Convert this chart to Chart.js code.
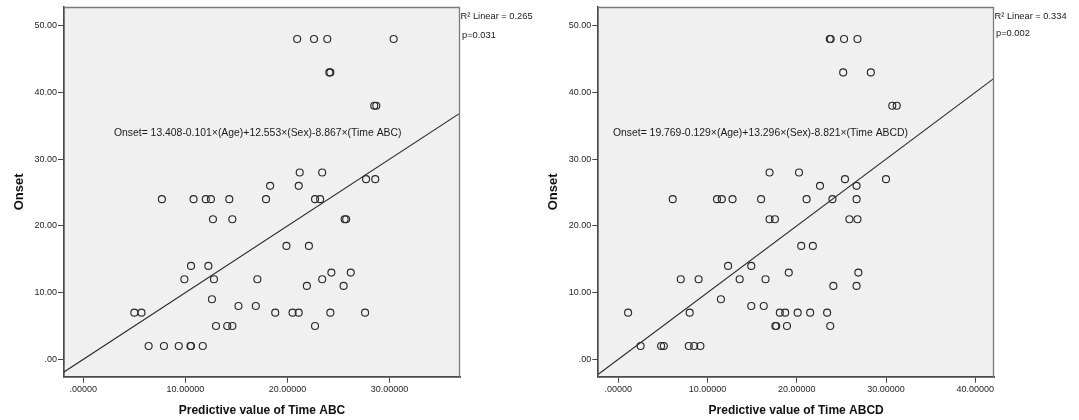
<!DOCTYPE html>
<html>
<head>
<meta charset="utf-8">
<script src="https://cdn.jsdelivr.net/npm/chart.js@4/dist/chart.umd.min.js"></script>
<style>
  body { margin: 0; background: #fff; }
  #wrap { position: relative; width: 1079px; height: 420px; }
  canvas { position: absolute; top: 0; }
  #abc { left: 0; }
  #abcd { left: 539px; }
</style>
</head>
<body>
<div id="wrap">
  <canvas id="abc" width="539" height="420"></canvas>
  <canvas id="abcd" width="540" height="420"></canvas>
</div>
<script>
// predictive value (x) and onset (y)
const abcPred = [
  20.95, 22.6, 23.9, 30.4,
  24.1, 24.2,
  28.5, 28.7,
  21.2, 23.4,
  27.7, 28.6,
  18.3, 21.1,
  7.7, 10.8, 12.0, 12.5, 14.3, 17.9, 22.7, 23.2,
  12.7, 14.6, 25.6, 25.75,
  19.9, 22.1,
  10.55, 12.25,
  24.3, 26.2,
  9.9, 12.8, 17.05, 23.4,
  21.9, 25.5,
  12.6,
  15.2, 16.9,
  5.0, 5.7, 18.8, 20.5, 21.1, 24.2, 27.6,
  13.0, 14.1, 14.6, 22.7,
  6.4, 7.9, 9.35, 10.5, 10.55, 11.7
];
const abcOnset = [
  48, 48, 48, 48,
  43, 43,
  38, 38,
  28, 28,
  27, 27,
  26, 26,
  24, 24, 24, 24, 24, 24, 24, 24,
  21, 21, 21, 21,
  17, 17,
  14, 14,
  13, 13,
  12, 12, 12, 12,
  11, 11,
  9,
  8, 8,
  7, 7, 7, 7, 7, 7, 7,
  5, 5, 5, 5,
  2, 2, 2, 2, 2, 2
];
const abcdPred = [
  23.7, 23.8, 25.3, 26.8,
  25.2, 28.3,
  30.7, 31.2,
  16.95, 20.25,
  25.4, 30.0,
  22.6, 26.7,
  6.1, 11.06, 11.6, 12.8, 16.0, 21.1, 24.0, 26.7,
  16.95, 17.55, 25.9, 26.8,
  20.5, 21.8,
  12.3, 14.9,
  19.1, 26.9,
  7.0, 9.0, 13.6, 16.5,
  24.1, 26.7,
  11.5,
  14.9, 16.3,
  1.1, 8.0, 18.1, 18.7, 20.1, 21.5, 23.4,
  17.6, 17.7, 18.9, 23.75,
  2.5, 4.8, 5.1, 7.9, 8.5, 9.2
];
const abcdOnset = abcOnset.slice();

// fit line of onset on predicted value
const fitIntercept = [0, 0];
const fitSlope = [1, 1];

const xTitles = ["Predictive value of Time ABC", "Predictive value of Time ABCD"];
const equations = [
  "Onset= 13.408-0.101×(Age)+12.553×(Sex)-8.867×(Time ABC)",
  "Onset= 19.769-0.129×(Age)+13.296×(Sex)-8.821×(Time ABCD)"
];
const r2Labels = ["R² Linear = 0.265", "R² Linear = 0.334"];
const pLabels = ["p=0.031", "p=0.002"];

const FONT = "'Liberation Sans', Arial, sans-serif";

// plot frame, equation and R² notes
const spssPlugin = {
  id: "spss",
  beforeDraw(chart) {
    const a = chart.chartArea, ctx = chart.ctx;
    ctx.save();
    ctx.fillStyle = "#f0f0f0";
    ctx.fillRect(a.left, a.top, a.right - a.left, a.bottom - a.top);
    ctx.restore();
  },
  afterDraw(chart) {
    const a = chart.chartArea, ctx = chart.ctx, o = chart.options.plugins.spss;
    ctx.save();
    ctx.strokeStyle = "#7a7a7a";
    ctx.lineWidth = 1.3;
    ctx.beginPath();
    ctx.moveTo(a.left, a.top + 0.5);
    ctx.lineTo(a.right - 0.5, a.top + 0.5);
    ctx.lineTo(a.right - 0.5, a.bottom);
    ctx.stroke();

    ctx.fillStyle = "#1a1a1a";
    ctx.font = "10.4px " + FONT;
    ctx.textBaseline = "middle";
    ctx.textAlign = "left";
    const ex = chart.scales.x.getPixelForValue(o.eqX);
    const ey = chart.scales.y.getPixelForValue(o.eqY);
    ctx.fillText(o.equation, ex, ey);

    ctx.font = "9.3px " + FONT;
    ctx.fillText(o.r2, a.right + 0.5, a.top + 9);
    ctx.fillText(o.p, a.right + 2, a.top + o.pDy);
    ctx.restore();
  }
};

function makeChart(id, i, pred, onset, xMin, xMax, yAxisW, padRight, yTitlePad, eqX, pDy) {
  const pts = pred.map((v, k) => ({ x: v, y: onset[k] }));
  const fit = [xMin, xMax].map(v => ({ x: v, y: fitIntercept[i] + fitSlope[i] * v }));
  const tickStyle = { color: "#262626", font: { family: FONT, size: 9 } };
  new Chart(document.getElementById(id), {
    type: "scatter",
    data: {
      datasets: [
        {
          data: pts,
          pointStyle: "circle",
          pointRadius: 3.5,
          borderColor: "#2a2a2a",
          borderWidth: 1.15,
          backgroundColor: "rgba(0,0,0,0)",
          order: 1
        },
        {
          type: "line",
          data: fit,
          borderColor: "#2a2a2a",
          borderWidth: 1.1,
          pointRadius: 0,
          fill: false,
          order: 2
        }
      ]
    },
    options: {
      responsive: false,
      animation: false,
      layout: { padding: { top: 7, right: padRight, left: 0, bottom: 0 } },
      plugins: {
        legend: { display: false },
        tooltip: { enabled: false },
        spss: { equation: equations[i], eqX: eqX, eqY: 33.9, r2: r2Labels[i], p: pLabels[i], pDy: pDy }
      },
      scales: {
        x: {
          type: "linear",
          min: xMin,
          max: xMax,
          afterFit: s => { s.height = 43.3; },
          ticks: Object.assign({ stepSize: 10, includeBounds: false, padding: 1, maxRotation: 0,
            callback: v => v === 0 ? ".00000" : v.toFixed(5) }, tickStyle),
          grid: { drawOnChartArea: false, drawTicks: true, tickLength: 6, tickColor: "#444", tickWidth: 1 },
          border: { display: true, color: "#4a4a4a", width: 1.7 },
          title: { display: true, text: xTitles[i], color: "#111",
            font: { family: FONT, size: 12, weight: "bold" }, padding: { top: 0, bottom: 2 } }
        },
        y: {
          type: "linear",
          min: -2.6,
          max: 52.8,
          afterFit: s => { s.width = yAxisW; },
          ticks: Object.assign({ stepSize: 10, includeBounds: false, padding: 1,
            callback: v => v === 0 ? ".00" : v.toFixed(2) }, tickStyle),
          grid: { drawOnChartArea: false, drawTicks: true, tickLength: 6, tickColor: "#444", tickWidth: 1 },
          border: { display: true, color: "#4a4a4a", width: 1.7 },
          title: { display: true, text: "Onset", color: "#111",
            font: { family: FONT, size: 13, weight: "bold" }, padding: { top: yTitlePad, bottom: 0 } }
        }
      }
    },
    plugins: [spssPlugin]
  });
}

window.addEventListener("load", () => {
  makeChart("abc", 0, abcPred, abcOnset, -1.89, 36.9, 64, 79, 12, 3.0, 28);
  makeChart("abcd", 1, abcdPred, abcdOnset, -2.24, 42.1, 59.3, 85, 7, -0.6, 26.5);
});
</script>
</body>
</html>
